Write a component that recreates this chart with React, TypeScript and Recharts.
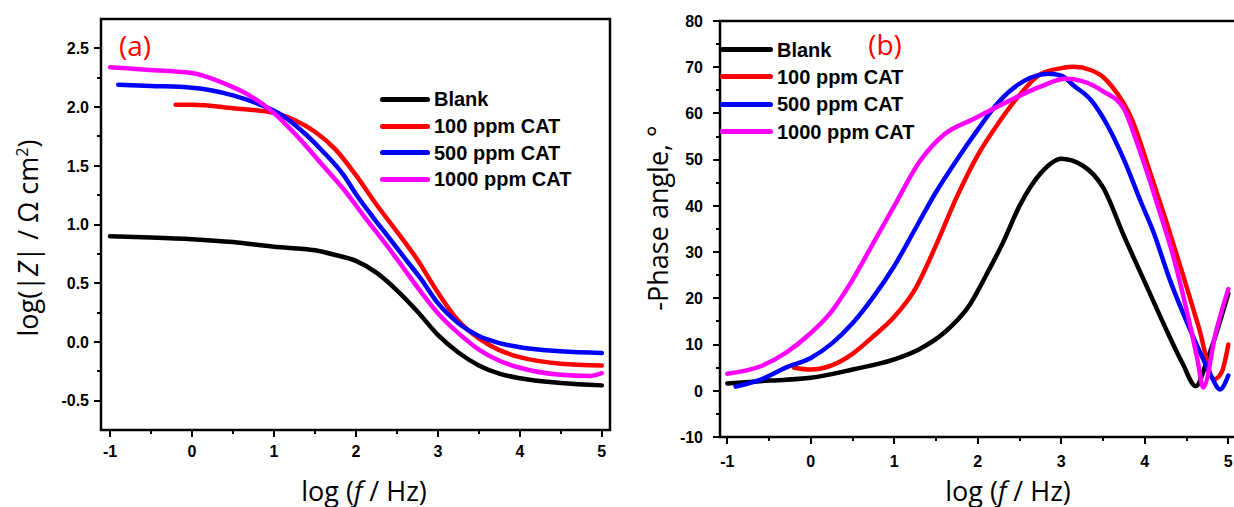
import { LineChart, Line, XAxis, YAxis, ReferenceArea, Legend } from 'recharts';

// (a) Bode modulus: log|Z| vs log f
const aBlankX = [-1, -0.5, 0, 0.5, 1, 1.5, 1.75, 2, 2.25, 2.5, 2.75, 3, 3.25, 3.5, 3.75, 4, 4.5, 5];
const aBlankY = [0.9, 0.89, 0.875, 0.85, 0.81, 0.78, 0.74, 0.69, 0.59, 0.44, 0.26, 0.06, -0.09, -0.2, -0.27, -0.31, -0.35, -0.37];
const a100X = [-0.2, 0, 0.5, 1, 1.25, 1.5, 1.75, 2, 2.25, 2.5, 2.75, 3, 3.25, 3.5, 3.75, 4, 4.5, 5];
const a100Y = [2.02, 2.02, 1.99, 1.95, 1.89, 1.79, 1.64, 1.42, 1.17, 0.94, 0.7, 0.42, 0.18, 0.03, -0.07, -0.13, -0.185, -0.2];
const a500X = [-0.9, -0.5, 0, 0.5, 0.8, 1.1, 1.4, 1.6, 1.85, 2, 2.2, 2.4, 2.6, 2.8, 3, 3.25, 3.5, 3.75, 4, 4.5, 5];
const a500Y = [2.19, 2.18, 2.165, 2.1, 2.03, 1.93, 1.76, 1.62, 1.42, 1.26, 1.07, 0.89, 0.71, 0.53, 0.33, 0.16, 0.05, -0.01, -0.045, -0.08, -0.095];
const a1000X = [-1, -0.6, 0, 0.4, 0.7, 1, 1.3, 1.6, 1.85, 2.1, 2.4, 2.6, 2.8, 3, 3.25, 3.5, 3.75, 4, 4.5, 4.85, 5];
const a1000Y = [2.34, 2.32, 2.29, 2.2, 2.1, 1.95, 1.74, 1.5, 1.3, 1.07, 0.8, 0.61, 0.42, 0.245, 0.075, -0.065, -0.16, -0.22, -0.28, -0.29, -0.265];

// (b) Bode phase: -phase angle vs log f
const bBlankX = [-1, -0.5, 0, 0.5, 1, 1.3, 1.6, 1.9, 2.1, 2.3, 2.5, 2.75, 3, 3.25, 3.5, 3.75, 4, 4.25, 4.45, 4.61, 4.75, 5];
const bBlankY = [1.6, 2.2, 2.8, 4.6, 6.8, 9, 12.6, 18.5, 25, 32, 40, 47, 50.2, 48.8, 44, 33.5, 23.5, 13.5, 6, 1, 6.8, 21];
const b100X = [-0.2, 0, 0.25, 0.5, 0.75, 1, 1.25, 1.5, 1.75, 2, 2.25, 2.5, 2.75, 3, 3.15, 3.35, 3.5, 3.6, 3.85, 4.05, 4.25, 4.45, 4.65, 4.83, 4.92, 5];
const b100Y = [5, 4.6, 5.5, 8, 11.8, 16, 22, 31.5, 42, 51, 58, 64, 68.5, 69.8, 70.1, 69.4, 67.9, 66, 58.5, 48, 37, 25.5, 13.5, 2.5, 4, 10];
const b500X = [-0.9, -0.6, -0.3, 0, 0.25, 0.5, 0.75, 1, 1.25, 1.5, 1.75, 2, 2.25, 2.55, 2.85, 3, 3.15, 3.35, 3.55, 3.75, 3.95, 4.1, 4.3, 4.5, 4.7, 4.8, 4.9, 5];
const b500Y = [0.9, 2.4, 5, 7.1, 10.2, 14.6, 20.3, 27, 35, 43, 50, 56.5, 62.5, 67, 68.6, 68.2, 66, 63, 57.5, 50, 41, 34.5, 24, 15, 6.8, 3, 0.3, 3.3];
const b1000X = [-1, -0.6, -0.3, 0, 0.25, 0.5, 0.75, 1, 1.3, 1.6, 1.95, 2.35, 2.75, 3.05, 3.25, 3.5, 3.75, 3.9, 4.05, 4.2, 4.35, 4.5, 4.63, 4.7, 4.85, 5];
const b1000Y = [3.7, 5.3, 8.2, 12.5, 17.2, 24, 32, 40, 49.5, 55.5, 58.8, 62.5, 65.8, 67.5, 67, 64.8, 61, 54, 46, 37.5, 28.5, 17.5, 6.8, 0.7, 12.6, 22];

const NAMES = ['Blank', '100 ppm CAT', '500 ppm CAT', '1000 ppm CAT'];
const COLORS = ['#000000', '#ff0000', '#0000ff', '#ff00ff'];

const X_TICKS = [-1, -0.5, 0, 0.5, 1, 1.5, 2, 2.5, 3, 3.5, 4, 4.5, 5];
const X_LABELS = [-1, 0, 1, 2, 3, 4, 5];
const A_Y_TICKS = [-0.5, -0.25, 0, 0.25, 0.5, 0.75, 1, 1.25, 1.5, 1.75, 2, 2.25, 2.5];
const A_Y_LABELS = [-0.5, 0, 0.5, 1, 1.5, 2, 2.5];
const B_Y_TICKS = [-10, -5, 0, 5, 10, 15, 20, 25, 30, 35, 40, 45, 50, 55, 60, 65, 70, 75, 80];
const B_Y_LABELS = [-10, 0, 10, 20, 30, 40, 50, 60, 70, 80];

const A_X_DOMAIN = [-1.11, 5.1];
const A_Y_DOMAIN = [-0.75, 2.75];
const B_X_DOMAIN = [-1.087, 5.092];
const B_Y_DOMAIN = [-10, 80];

const pts = (xs: number[], ys: number[]) => xs.map((x, i) => ({ x, y: ys[i] }));
const A_SERIES = [pts(aBlankX, aBlankY), pts(a100X, a100Y), pts(a500X, a500Y), pts(a1000X, a1000Y)];
const B_SERIES = [pts(bBlankX, bBlankY), pts(b100X, b100Y), pts(b500X, b500Y), pts(b1000X, b1000Y)];

const TICK_FONT = '"Liberation Sans", Arial, sans-serif';
const TITLE_FONT = '"Open Sans", "Noto Sans", sans-serif';

const isIn = (list: number[], v: number) => list.some(l => Math.abs(l - v) < 1e-9);

function XTick(props: any) {
  const { x, y, payload, labels, off } = props;
  const major = isIn(labels, payload.value);
  const len = major ? 7 : 4;
  return (
    <g>
      <line x1={x} x2={x} y1={y} y2={y + len} stroke="#000" strokeWidth={2} shapeRendering="crispEdges" />
      {major && (
        <text x={x} y={y + off} textAnchor="middle" fontFamily={TICK_FONT} fontWeight="bold" fontSize={16} fill="#000">
          {payload.value}
        </text>
      )}
    </g>
  );
}

function YTick(props: any) {
  const { x, y, payload, labels, off, fmt } = props;
  const major = isIn(labels, payload.value);
  const len = major ? 7 : 4;
  return (
    <g>
      <line x1={x - len} x2={x} y1={y} y2={y} stroke="#000" strokeWidth={2} shapeRendering="crispEdges" />
      {major && (
        <text x={x - off} y={y} dy="0.36em" textAnchor="end" fontFamily={TICK_FONT} fontWeight="bold" fontSize={16} fill="#000">
          {fmt(payload.value)}
        </text>
      )}
    </g>
  );
}

function legendBox(rowH: number, swatchW: number) {
  return () => (
    <div style={{ fontFamily: TICK_FONT, fontWeight: 'bold', fontSize: 20, color: '#000', lineHeight: 1 }}>
      {NAMES.map((n, i) => (
        <div key={n} style={{ display: 'flex', alignItems: 'center', height: rowH, whiteSpace: 'nowrap' }}>
          <span style={{ display: 'inline-block', width: swatchW, height: 5, borderRadius: 3, background: COLORS[i], marginRight: 4 }} />
          {n}
        </div>
      ))}
    </div>
  );
}

function Title({ cx, cy, rotate = 0, size = 27, color = '#000', children }: any) {
  return (
    <div
      style={{
        position: 'absolute', left: cx, top: cy, whiteSpace: 'nowrap', fontFamily: TITLE_FONT,
        fontSize: size, color, lineHeight: 1, transform: `translate(-50%, -50%) rotate(${rotate}deg)`,
      }}
    >
      {children}
    </div>
  );
}

export default function App() {
  return (
    <div style={{ position: 'absolute', left: 0, top: 0, width: 1234, height: 507, overflow: 'hidden', background: '#fff' }}>
      <div style={{ position: 'absolute', left: 0, top: 0 }}>
        <LineChart width={620} height={507} margin={{ top: 19, right: 10, left: 41, bottom: 47 }}>
          <XAxis dataKey="x" type="number" domain={A_X_DOMAIN} allowDataOverflow ticks={X_TICKS} interval={0}
            axisLine={false} tickLine={false} tickSize={0} tickMargin={0} height={30}
            tick={(p: any) => <XTick {...p} labels={X_LABELS} off={27} />} />
          <YAxis type="number" domain={A_Y_DOMAIN} allowDataOverflow ticks={A_Y_TICKS} interval={0}
            axisLine={false} tickLine={false} tickSize={0} tickMargin={0} width={60}
            tick={(p: any) => <YTick {...p} labels={A_Y_LABELS} off={12} fmt={(v: number) => v.toFixed(1)} />} />
          <ReferenceArea x1={A_X_DOMAIN[0]} x2={A_X_DOMAIN[1]} y1={A_Y_DOMAIN[0]} y2={A_Y_DOMAIN[1]}
            fill="none" fillOpacity={0} stroke="#000" strokeWidth={2.5} strokeOpacity={1} />
          {A_SERIES.map((d, i) => (
            <Line key={NAMES[i]} data={d} dataKey="y" name={NAMES[i]} type="monotone" stroke={COLORS[i]}
              strokeWidth={4.5} dot={false} strokeLinejoin="round" strokeLinecap="round" isAnimationActive={false} />
          ))}
          <Legend layout="vertical" align="center" verticalAlign="middle" content={legendBox(26.7, 50)}
            wrapperStyle={{ left: 380, top: 86, width: 'auto' }} />
        </LineChart>
      </div>
      <div style={{ position: 'absolute', left: 620, top: 0 }}>
        <LineChart width={640} height={507} margin={{ top: 21, right: 24, left: 40, bottom: 40 }}>
          <XAxis dataKey="x" type="number" domain={B_X_DOMAIN} allowDataOverflow ticks={X_TICKS} interval={0}
            axisLine={false} tickLine={false} tickSize={0} tickMargin={0} height={30}
            tick={(p: any) => <XTick {...p} labels={X_LABELS} off={30} />} />
          <YAxis type="number" domain={B_Y_DOMAIN} allowDataOverflow ticks={B_Y_TICKS} interval={0}
            axisLine={false} tickLine={false} tickSize={0} tickMargin={0} width={60}
            tick={(p: any) => <YTick {...p} labels={B_Y_LABELS} off={17} fmt={(v: number) => String(v)} />} />
          <ReferenceArea x1={B_X_DOMAIN[0]} x2={B_X_DOMAIN[1]} y1={B_Y_DOMAIN[0]} y2={B_Y_DOMAIN[1]}
            fill="none" fillOpacity={0} stroke="#000" strokeWidth={2.5} strokeOpacity={1} />
          {B_SERIES.map((d, i) => (
            <Line key={NAMES[i]} data={d} dataKey="y" name={NAMES[i]} type="monotone" stroke={COLORS[i]}
              strokeWidth={4.5} dot={false} strokeLinejoin="round" strokeLinecap="round" isAnimationActive={false} />
          ))}
          <Legend layout="vertical" align="center" verticalAlign="middle" content={legendBox(27.3, 53)}
            wrapperStyle={{ left: 100, top: 36, width: 'auto' }} />
        </LineChart>
      </div>

      <Title cx={135} cy={45} size={28} color="#ff0000">(a)</Title>
      <Title cx={885} cy={44} size={28} color="#ff0000">(b)</Title>
      <Title cx={364} cy={490}>log (<i>f</i> / Hz)</Title>
      <Title cx={1008} cy={490}>log (<i>f</i> / Hz)</Title>
      <Title cx={27} cy={238} rotate={-90}>
        log(|<i>Z</i>| / Ω cm<sup style={{ fontSize: '0.6em' }}>2</sup>)
      </Title>
      <Title cx={657} cy={218} rotate={-90}>-Phase angle, °</Title>
    </div>
  );
}
